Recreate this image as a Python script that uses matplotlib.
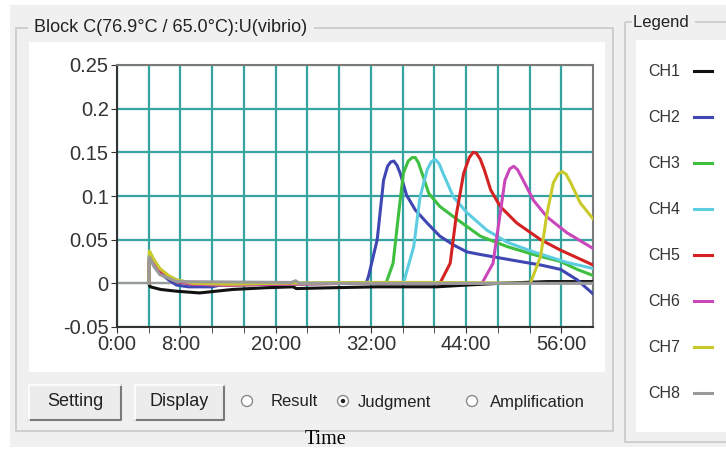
import matplotlib
matplotlib.use('Agg')
import matplotlib.pyplot as plt
from matplotlib.patches import Rectangle, Circle

# channel data (time in minutes, signal)
ch1_t = [4.0, 4.2, 5.5, 7.5, 10.4, 12.5, 14.6, 18.9, 22.2, 22.6, 27.3, 32.7, 40.3, 44.0, 48.3, 54.2, 60.0]
ch1_v = [0.0, -0.004, -0.007, -0.009, -0.011, -0.009, -0.007, -0.005, -0.004, -0.006, -0.005, -0.004, -0.004, -0.002, 0.0, 0.002, 0.002]

ch2_t = [4.0, 4.1, 4.6, 5.4, 6.5, 7.5, 9.0, 12.0, 13.0, 16.0, 24.0, 31.4, 31.7, 32.8, 33.6, 34.1, 34.5, 34.9, 35.3,
         35.7, 36.5, 37.6, 39.1, 40.7, 42.4, 44.1, 45.8, 48.3, 50.8, 53.4, 55.9, 58.0, 60.0]
ch2_v = [0.0, 0.034, 0.024, 0.012, 0.004, -0.002, -0.004, -0.004, -0.002, -0.001, 0.0, 0.0, 0.008, 0.05, 0.118, 0.134,
         0.139, 0.14, 0.135, 0.126, 0.101, 0.084, 0.069, 0.054, 0.044, 0.036, 0.033, 0.029, 0.025, 0.021, 0.016,
         0.004, -0.012]

ch3_t = [4.0, 4.1, 4.6, 5.4, 6.5, 7.5, 9.6, 14.0, 20.0, 28.0, 33.9, 34.8, 35.5, 36.1, 36.7, 37.2, 37.6, 38.0, 38.6,
         39.3, 40.7, 42.9, 45.8, 49.2, 52.5, 55.9, 58.0, 60.0]
ch3_v = [0.0, 0.035, 0.025, 0.014, 0.007, 0.003, -0.001, -0.002, -0.001, 0.0, 0.0, 0.023, 0.08, 0.126, 0.14, 0.144,
         0.144, 0.138, 0.122, 0.103, 0.088, 0.073, 0.054, 0.042, 0.033, 0.025, 0.016, 0.009]

ch4_t = [4.0, 4.1, 4.6, 5.4, 6.5, 7.5, 9.6, 14.0, 20.0, 28.0, 36.1, 37.4, 38.2, 39.1, 39.6, 40.1, 40.6, 41.1, 42.4,
         44.1, 46.6, 49.2, 52.5, 56.7, 60.0]
ch4_v = [0.0, 0.036, 0.026, 0.015, 0.008, 0.004, 0.0, -0.001, -0.001, 0.0, 0.0, 0.042, 0.099, 0.13, 0.139, 0.142,
         0.137, 0.126, 0.099, 0.081, 0.061, 0.047, 0.036, 0.024, 0.017]

ch5_t = [4.0, 4.1, 4.6, 5.4, 6.5, 7.5, 9.6, 14.0, 20.0, 30.0, 40.7, 42.0, 42.8, 43.7, 44.4, 44.9, 45.3, 45.8, 46.3,
         47.1, 48.3, 50.4, 53.4, 55.9, 60.0]
ch5_v = [0.0, 0.033, 0.024, 0.013, 0.006, 0.002, -0.001, -0.002, -0.001, 0.0, 0.0, 0.023, 0.08, 0.126, 0.144, 0.15,
         0.149, 0.142, 0.13, 0.107, 0.088, 0.069, 0.05, 0.038, 0.021]

ch6_t = [4.0, 4.1, 4.6, 5.4, 6.5, 7.5, 9.6, 14.0, 20.0, 30.0, 46.0, 47.4, 48.3, 48.9, 49.5, 50.0, 50.5, 51.2, 52.5,
         54.2, 56.7, 60.0]
ch6_v = [0.0, 0.034, 0.025, 0.016, 0.008, 0.003, -0.001, -0.002, -0.001, 0.0, 0.0, 0.023, 0.08, 0.118, 0.131, 0.134,
         0.13, 0.118, 0.095, 0.076, 0.058, 0.04]

ch7_t = [4.0, 4.1, 4.6, 5.4, 6.5, 7.5, 9.6, 14.0, 20.0, 30.0, 40.0, 52.1, 53.4, 54.2, 55.0, 55.6, 56.1, 56.6, 57.2,
         58.4, 60.0]
ch7_v = [0.0, 0.037, 0.028, 0.017, 0.009, 0.004, 0.0, -0.001, 0.0, 0.001, 0.001, 0.0, 0.031, 0.08, 0.115, 0.125,
         0.128, 0.125, 0.115, 0.092, 0.074]

ch8_t = [4.0, 4.1, 4.6, 5.4, 7.5, 22.0, 22.5, 23.0, 60.0]
ch8_v = [0.0, 0.03, 0.02, 0.01, 0.002, 0.001, 0.003, 0.0, 0.0]

names = ['CH1', 'CH2', 'CH3', 'CH4', 'CH5', 'CH6', 'CH7', 'CH8']
colors = ['#111111', '#3f47b3', '#3fbf3f', '#5ccde0', '#d42222', '#c947bb', '#c9c92a', '#9a9a9a']
series = [(ch1_t, ch1_v), (ch2_t, ch2_v), (ch3_t, ch3_v), (ch4_t, ch4_v),
          (ch5_t, ch5_v), (ch6_t, ch6_v), (ch7_t, ch7_v), (ch8_t, ch8_v)]

xticks_major = [0, 8, 20, 32, 44, 56]
xlabels = ['0:00', '8:00', '20:00', '32:00', '44:00', '56:00']
yticks = [-0.05, 0, 0.05, 0.1, 0.15, 0.2, 0.25]
ylabels = ['-0.05', '0', '0.05', '0.1', '0.15', '0.2', '0.25']

W, H = 726, 450
ui = 'Liberation Sans'
fig = plt.figure(figsize=(W / 100, H / 100), dpi=100, facecolor='white')

# window background drawn in pixel coordinates
bg = fig.add_axes([0, 0, 1, 1])
bg.set_xlim(0, W)
bg.set_ylim(H, 0)
bg.axis('off')
bg.add_patch(Rectangle((10, 5), W - 10, 442, facecolor='#f0f0f0', edgecolor='none'))

# group box "Block C"
bg.add_patch(Rectangle((16, 28), 597, 403, facecolor='none', edgecolor='#c9c9c9', lw=1.2))
bg.text(29, 28, ' Block C(76.9°C / 65.0°C):U(vibrio) ', fontsize=13, family=ui, color='#222222',
        va='center', ha='left', bbox=dict(facecolor='#f0f0f0', edgecolor='none', pad=1))
bg.add_patch(Rectangle((29, 42), 576, 330, facecolor='white', edgecolor='none'))

# group box "Legend"
bg.add_patch(Rectangle((625, 22), 110, 420, facecolor='none', edgecolor='#c9c9c9', lw=1.2))
bg.text(633, 22, 'Legend ', fontsize=12, family=ui, color='#222222', va='center', ha='left',
        bbox=dict(facecolor='#f0f0f0', edgecolor='none', pad=1))
bg.add_patch(Rectangle((636, 40), 95, 392, facecolor='white', edgecolor='none'))
for i, nm in enumerate(names):
    yy = 71 + i * 46
    bg.text(648, yy, nm, fontsize=11.5, family=ui, color='#333333', va='center', ha='left')
    bg.plot([694, 712], [yy, yy], color=colors[i], lw=2.2)

# buttons
for x0, x1, lab in [(29, 121, 'Setting'), (135, 224, 'Display')]:
    bg.add_patch(Rectangle((x0, 385), x1 - x0, 35, facecolor='#ececec', edgecolor='none'))
    bg.plot([x0, x1, x1], [420, 420, 385], color='#7a7a7a', lw=1.5)
    bg.plot([x0, x0, x1], [420, 385, 385], color='white', lw=1.2)
    bg.text((x0 + x1) / 2, 402, lab, fontsize=13, family=ui, color='#222222', ha='center', va='center')

# radio buttons
for cx, tx, lab, on in [(247, 271, 'Result', False), (343, 358, 'Judgment', True),
                        (472, 490, 'Amplification', False)]:
    bg.add_patch(Circle((cx, 401), 5.5, facecolor='white', edgecolor='#8a8a8a', lw=1))
    if on:
        bg.add_patch(Circle((cx, 401), 2.2, facecolor='#222222', edgecolor='none'))
    bg.text(tx, 402, lab, fontsize=12, family=ui, color='#222222', ha='left', va='center')

bg.text(326, 439, 'Time', fontsize=14.5, family='Liberation Serif', color='black', ha='center', va='center')

# plot area
ax = fig.add_axes([117 / W, 1 - 327 / H, (593 - 117) / W, (327 - 65) / H])
ax.set_facecolor('white')
ax.set_xlim(0, 60)
ax.set_ylim(-0.05, 0.25)
ax.set_xticks(range(4, 60, 4), minor=True)
ax.set_xticks(xticks_major)
ax.set_xticklabels(xlabels)
ax.set_yticks(yticks)
ax.set_yticklabels(ylabels)
ax.tick_params(which='both', direction='out', length=4, color='#333333')
ax.tick_params(labelsize=14.5, labelcolor='#333333', pad=2)
for lab in ax.get_xticklabels() + ax.get_yticklabels():
    lab.set_family(ui)
ax.grid(True, which='both', color='#35a39f', lw=1.6)
ax.set_axisbelow(True)
ax.axhline(0, color='#9a9a9a', lw=1.6, zorder=1.5)
for sp in ['left', 'bottom']:
    ax.spines[sp].set_color('#333333')
    ax.spines[sp].set_linewidth(1.5)
for sp in ['top', 'right']:
    ax.spines[sp].set_color('#7a7a7a')
    ax.spines[sp].set_linewidth(1.5)

for (t, v), c in zip(series, colors):
    ax.plot(t, v, color=c, lw=2.2, zorder=3)

plt.savefig('out.png', dpi=100, facecolor='white')
